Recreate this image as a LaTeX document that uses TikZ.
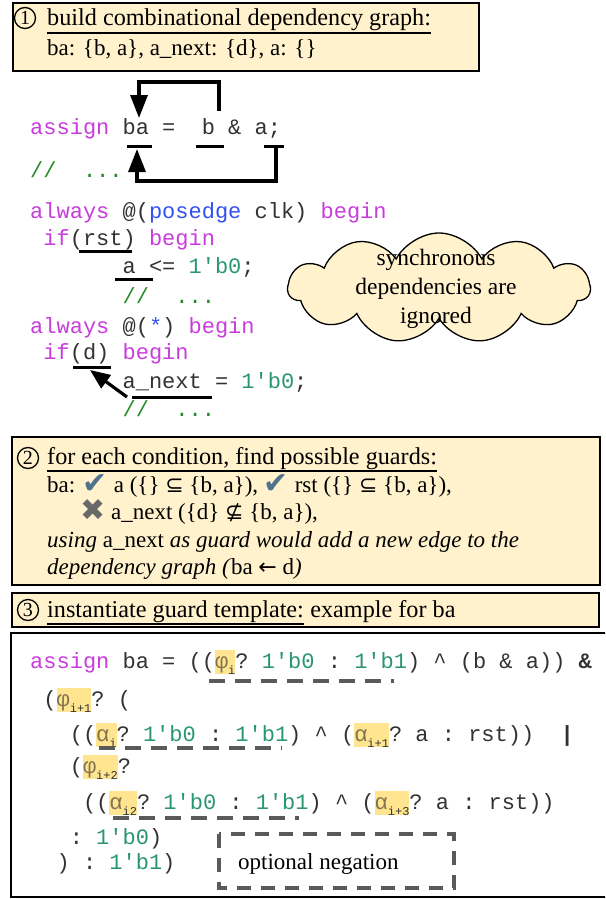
\documentclass[tikz,border=0pt]{standalone}
\usepackage{fontspec}
\setmainfont{Liberation Serif}
\setmonofont{Liberation Mono}
\newfontfamily\symfont{DejaVu Sans}
\usetikzlibrary{arrows.meta,shapes.symbols}

\definecolor{boxfill}{RGB}{255,242,204}
\definecolor{kwcol}{RGB}{200,60,220}
\definecolor{bluecol}{RGB}{50,80,240}
\definecolor{numcol}{RGB}{40,150,110}
\definecolor{cmtcol}{RGB}{40,140,40}
\definecolor{codecol}{RGB}{50,50,50}
\definecolor{hlcol}{RGB}{255,229,143}
\definecolor{greekcol}{RGB}{130,115,80}
\definecolor{dashcol}{RGB}{90,90,90}
\definecolor{checkcol}{RGB}{80,115,140}
\definecolor{crosscol}{RGB}{105,105,105}

\newcommand{\kw}[1]{\textcolor{kwcol}{#1}}
\newcommand{\nm}[1]{\textcolor{numcol}{#1}}
\newcommand{\cmt}[1]{\textcolor{cmtcol}{#1}}
\newcommand{\bl}[1]{\textcolor{bluecol}{#1}}
\newcommand{\hlvar}[2]{{\setlength{\fboxsep}{0pt}\colorbox{hlcol}{\rule[-6pt]{0pt}{24pt}\textcolor{greekcol}{#1}\raisebox{-6pt}{\fontsize{12}{12}\selectfont #2}}}}
\newcommand{\chk}{{\symfont\fontsize{30}{30}\selectfont\raisebox{-1pt}{\textcolor{checkcol}{✔}}}}
\newcommand{\crs}{{\symfont\fontsize{30}{30}\selectfont\raisebox{-1pt}{\textcolor{crosscol}{✖}}}}
\newcommand{\smb}[1]{{\symfont\fontsize{22}{22}\selectfont #1}}

\tikzset{
  box/.style={draw=black, fill=boxfill, line width=1.6pt},
  txt/.style={anchor=base west, inner sep=0pt, font=\fontsize{23}{28}\selectfont},
  head/.style={txt, font=\fontsize{24.2}{28}\selectfont},
  code/.style={anchor=base west, inner sep=0pt, text=codecol,
    font=\ttfamily\fontsize{22}{26}\selectfont\frenchspacing},
  numcirc/.style={circle, draw, line width=1.3pt, inner sep=0pt, minimum size=21pt,
    font=\fontsize{20}{20}\selectfont},
  ulline/.style={line width=2.2pt},
  bar/.style={line width=3pt},
  flow/.style={-{Triangle[length=23pt,width=17pt]}, line width=3.2pt},
  negdash/.style={draw=dashcol, line width=4pt, dash pattern=on 16pt off 10pt},
}

\begin{document}
\begin{tikzpicture}[x=1pt,y=-1pt]
\clip (0,0) rectangle (605,899);
\useasboundingbox (0,0) rectangle (605,899);

% step 1
\draw[box] (13,3) rectangle (479,71);
\node[numcirc] (n1) at (25,18) {1};
\node[head] (t1) at (47,26) {build combinational dependency graph:};
\draw[ulline] ([yshift=-7pt]t1.base west) -- ([yshift=-7pt]t1.base east);
\node[txt] (t1b) at (47,56) {ba: \{b, a\}, a\_next: \{d\}, a: \{\}};

% source code
\node[code] (c1) at (30,134) {\kw{assign} ba =~~b \& a;};
\node[code] (c2) at (30,177) {\cmt{//~~...}};
\node[code] (c3) at (30,218) {\kw{always} @(\bl{posedge} clk) \kw{begin}};
\node[code] (c4) at (30,245) {~\kw{if}(rst) \kw{begin}};
\node[code] (c5) at (30,273) {~~~~~~~a <= \nm{1'b0};};
\node[code] (c6) at (30,303) {~~~~~~~\cmt{//~~...}};
\node[code] (c7) at (30,333) {\kw{always} @(\bl{*}) \kw{begin}};
\node[code] (c8) at (30,359) {~\kw{if}(d) \kw{begin}};
\node[code] (c9) at (30,388) {~~~~~~~a\_next = \nm{1'b0};};
\node[code] (c10) at (30,416) {~~~~~~~\cmt{//~~...}};

\foreach \xa/\xb/\yy in {127/152/146, 196/224/146, 264/284/146, 79/132/251,
  115/153/279, 73/111/367, 132/212/397}
  \draw[bar] (\xa,\yy) -- (\xb,\yy);

\coordinate (bTop) at (219,111);
\coordinate (topTurn) at (139,82);
\coordinate (baTop) at (139,118);
\coordinate (aBot) at (276,147);
\coordinate (botTurn) at (137,181);
\coordinate (baBot) at (137,149);
\coordinate (nextL) at (127,397);
\coordinate (dR) at (90,370);
\draw[flow] (bTop) |- (topTurn) -- (baTop);
\draw[flow] (aBot) |- (botTurn) -- (baBot);
\draw[-{Triangle[length=20pt,width=16pt]}, line width=3.2pt] (nextL) -- (dR);

\node[cloud, cloud puffs=11, cloud puff arc=125, cloud ignores aspect, draw, fill=boxfill,
  line width=1.3pt, minimum width=302pt, minimum height=110pt] (cloud) at (439,288) {};
\node[align=center, inner sep=0pt, font=\fontsize{23.5}{29}\selectfont] (cloudtxt)
  at (436,289) {synchronous\\dependencies are\\ignored};

% step 2
\draw[box] (12,437) rectangle (600,585);
\node[numcirc] (n2) at (28,458) {2};
\node[head] (t2) at (47,464) {for each condition, find possible guards:};
\draw[ulline] ([yshift=-7pt]t2.base west) -- ([yshift=-7pt]t2.base east);
\node[txt] (t2b) at (47,492) {ba: \chk{} a (\{\}~\smb{⊆}~\{b, a\}), \chk{} rst (\{\}~\smb{⊆}~\{b, a\}),};
\node[txt] (t2c) at (80,519) {\crs{} a\_next (\{d\}~\smb{⊈}~\{b, a\}),};
\node[txt] (t2d) at (47,547) {\textit{using} a\_next \textit{as guard would add a new edge to the}};
\node[txt] (t2e) at (47,574) {\textit{dependency graph (}ba \smb{←} d\textit{)}};

% step 3
\draw[box] (12,593) rectangle (599,627);
\node[numcirc] (n3) at (28,610) {3};
\node[head] (t3) at (47,617) {instantiate guard template:};
\draw[ulline] ([yshift=-7pt]t3.base west) -- ([yshift=-7pt]t3.base east);
\node[head] (t3b) at (t3.base east) {~example for ba};

\draw[line width=1.6pt, fill=white] (11,633) rectangle (640,897);
\node[code] (g1) at (30,668) {\kw{assign} ba = ((\hlvar{φ}{i}? \nm{1'b0} : \nm{1'b1}) \textasciicircum{} (b \& a)) \textbf{\&}};
\node[code] (g2) at (30,706) {~(\hlvar{φ}{i+1}? (};
\node[code] (g3) at (30,741) {~~~((\hlvar{α}{i}? \nm{1'b0} : \nm{1'b1}) \textasciicircum{} (\hlvar{α}{i+1}? a : rst))~~\textbf{|}};
\node[code] (g4) at (30,773) {~~~(\hlvar{φ}{i+2}?};
\node[code] (g5) at (30,809) {~~~~((\hlvar{α}{i2}? \nm{1'b0} : \nm{1'b1}) \textasciicircum{} (\hlvar{α}{i+3}? a : rst))};
\node[code] (g6) at (30,844) {~~~: \nm{1'b0})};
\node[code] (g7) at (30,869) {~~) : \nm{1'b1})};

\foreach \xa/\xb/\yy in {209/394/681, 99/282/748, 113/299/818}
  \draw[negdash] (\xa,\yy) -- (\xb,\yy);

\draw[draw=dashcol, line width=3.5pt, dash pattern=on 14pt off 10pt] (219,834) rectangle (454,888);
\node[txt] (neg) at (238,869) {optional negation};
\end{tikzpicture}
\end{document}
